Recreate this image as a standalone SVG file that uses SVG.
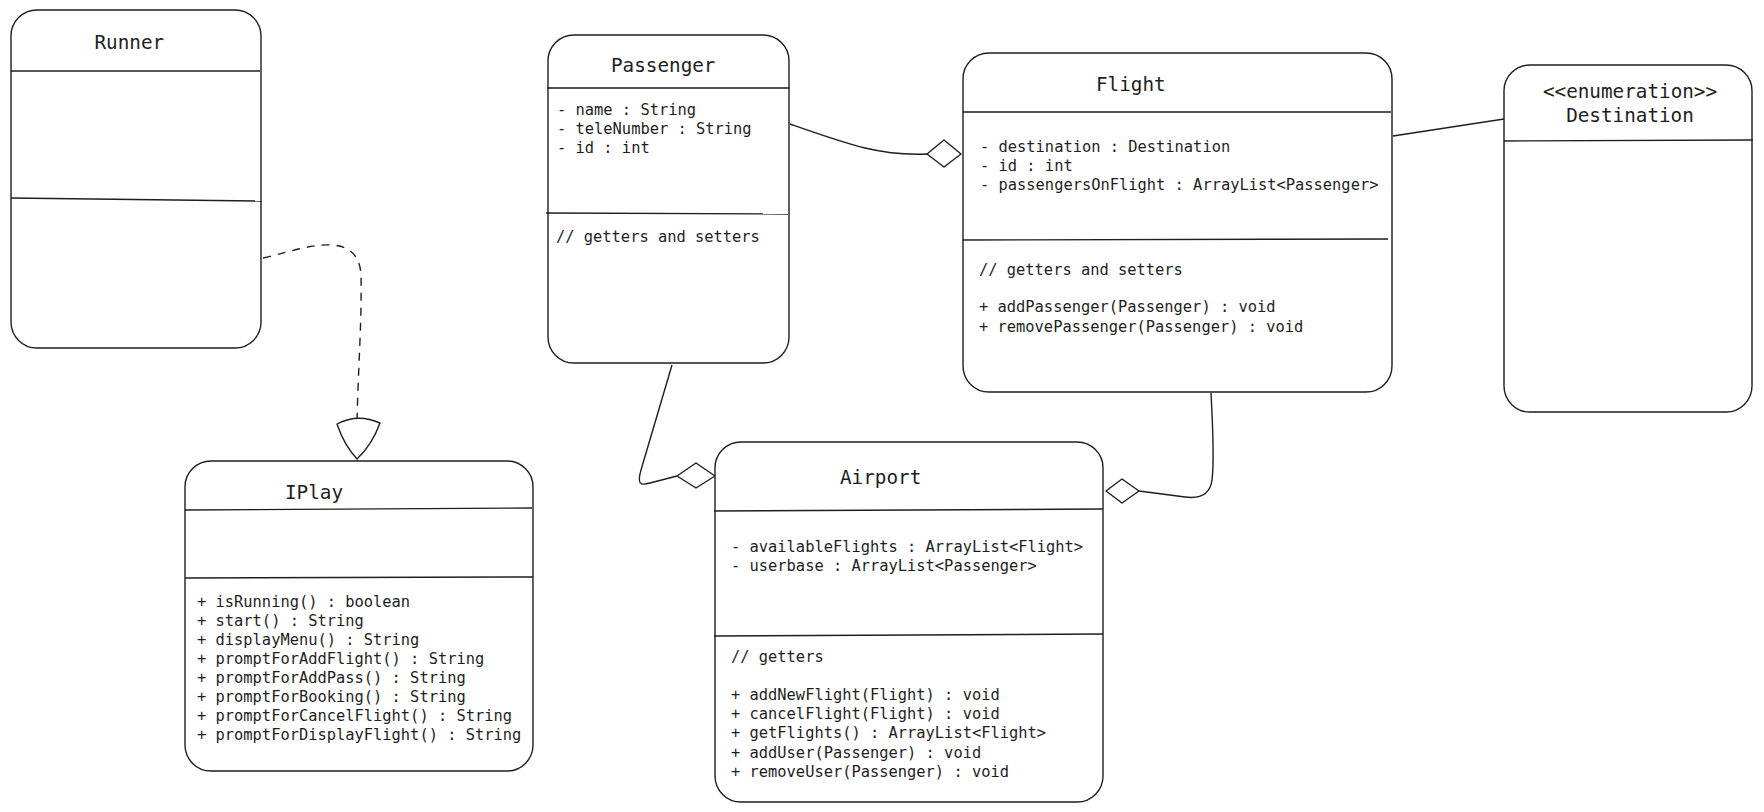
<svg xmlns="http://www.w3.org/2000/svg" width="1764" height="812" viewBox="0 0 1764 812">
<style>
.box{fill:#ffffff;stroke:#1e1e1e;stroke-width:1.4}
.div{stroke:#1e1e1e;stroke-width:1.4;fill:none}
.title{font-family:"DejaVu Sans Mono","Liberation Mono",monospace;font-size:19.3px;fill:#1e1e1e}
.txt{font-family:"DejaVu Sans Mono","Liberation Mono",monospace;font-size:15.4px;fill:#1e1e1e}
.line{stroke:#1e1e1e;stroke-width:1.4;fill:none}
.dash{stroke:#1e1e1e;stroke-width:1.4;fill:none;stroke-dasharray:8 7}
.head{fill:#ffffff;stroke:#1e1e1e;stroke-width:1.4;stroke-linejoin:round}
</style>
<rect width="1764" height="812" fill="#ffffff"/>

<g id="connectors">
  <path class="dash" d="M263 258 C290 252 310 244 332 245 C350 246 360 256 361 275 C362 320 358 370 357 423"/>
  <path class="head" d="M337 424 Q358 413 380 423 Q372 445 357 459 Q344 445 337 424 Z"/>
  <path class="line" d="M790 124 C850 145 880 156 927 154"/>
  <path class="head" d="M927 154 L944 140 L961 154 L944 167 Z"/>
  <path class="line" d="M672 365 L641 470 C637 484 640 486 650 483 L677 476"/>
  <path class="head" d="M677 476 L696 463 L715 476 L696 488 Z"/>
  <path class="line" d="M1211 393 C1213 430 1214 465 1212 480 C1210 495 1200 499 1185 497 L1139 491"/>
  <path class="head" d="M1106 491 L1122 479 L1139 491 L1122 503 Z"/>
  <path class="line" d="M1393 136 L1504 119"/>
</g>

<g id="Runner">
  <rect class="box" x="11" y="10" width="250" height="338" rx="26"/>
  <path class="div" d="M11 71 L260 71"/>
  <path class="div" d="M11 198 L262 201"/>
  <text class="title" x="94.5" y="49">Runner</text>
</g>

<g id="Passenger">
  <rect class="box" x="548" y="35" width="241" height="328" rx="26"/>
  <path class="div" d="M547 88 L789 88"/>
  <path class="div" d="M546 213 L788 214"/>
  <text class="title" x="611" y="72">Passenger</text>
  <text class="txt" x="557" y="115">- name : String</text>
  <text class="txt" x="557" y="134">- teleNumber : String</text>
  <text class="txt" x="557" y="153">- id : int</text>
  <text class="txt" x="556" y="242">// getters and setters</text>
</g>

<g id="Flight">
  <rect class="box" x="963" y="53" width="429" height="339" rx="26"/>
  <path class="div" d="M963 112 L1391 112"/>
  <path class="div" d="M963 240 L1388 239"/>
  <text class="title" x="1096" y="91">Flight</text>
  <text class="txt" x="980" y="152">- destination : Destination</text>
  <text class="txt" x="980" y="171">- id : int</text>
  <text class="txt" x="980" y="190">- passengersOnFlight : ArrayList&lt;Passenger&gt;</text>
  <text class="txt" x="979" y="275">// getters and setters</text>
  <text class="txt" x="979" y="312">+ addPassenger(Passenger) : void</text>
  <text class="txt" x="979" y="332">+ removePassenger(Passenger) : void</text>
</g>

<g id="Destination">
  <rect class="box" x="1504" y="65" width="248" height="347" rx="26"/>
  <path class="div" d="M1504 141 L1753 140"/>
  <text class="title" x="1630" y="98" text-anchor="middle">&lt;&lt;enumeration&gt;&gt;</text>
  <text class="title" x="1630" y="122" text-anchor="middle">Destination</text>
</g>

<g id="IPlay">
  <rect class="box" x="185" y="461" width="348" height="310" rx="26"/>
  <path class="div" d="M185 510 L532 508"/>
  <path class="div" d="M185 578 L533 577"/>
  <text class="title" x="285" y="499">IPlay</text>
  <text class="txt" x="197" y="607">+ isRunning() : boolean</text>
  <text class="txt" x="197" y="626">+ start() : String</text>
  <text class="txt" x="197" y="645">+ displayMenu() : String</text>
  <text class="txt" x="197" y="664">+ promptForAddFlight() : String</text>
  <text class="txt" x="197" y="683">+ promptForAddPass() : String</text>
  <text class="txt" x="197" y="702">+ promptForBooking() : String</text>
  <text class="txt" x="197" y="721">+ promptForCancelFlight() : String</text>
  <text class="txt" x="197" y="740">+ promptForDisplayFlight() : String</text>
</g>

<g id="Airport">
  <rect class="box" x="715" y="442" width="388" height="360" rx="26"/>
  <path class="div" d="M714 511 L1103 509"/>
  <path class="div" d="M714 636 L1103 634"/>
  <text class="title" x="840" y="484">Airport</text>
  <text class="txt" x="731" y="552">- availableFlights : ArrayList&lt;Flight&gt;</text>
  <text class="txt" x="731" y="571">- userbase : ArrayList&lt;Passenger&gt;</text>
  <text class="txt" x="731" y="662">// getters</text>
  <text class="txt" x="731" y="700">+ addNewFlight(Flight) : void</text>
  <text class="txt" x="731" y="719">+ cancelFlight(Flight) : void</text>
  <text class="txt" x="731" y="738">+ getFlights() : ArrayList&lt;Flight&gt;</text>
  <text class="txt" x="731" y="758">+ addUser(Passenger) : void</text>
  <text class="txt" x="731" y="777">+ removeUser(Passenger) : void</text>
</g>
</svg>
